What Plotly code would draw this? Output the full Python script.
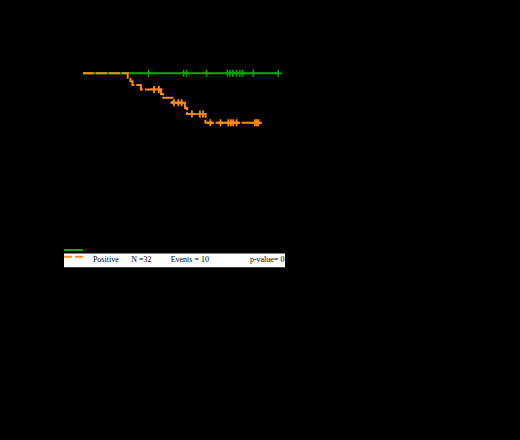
import plotly.graph_objects as go

# ---- data ----
neg_times = [0, 119.7]
neg_surv = [1.0, 1.0]
neg_censor_times = [40.2, 61.7, 63.5, 75.7, 88.4, 90.0, 91.7, 94.1, 96.1, 97.8, 104.3, 119.6]

pos_event_times = [27.4, 29.1, 30.3, 35.5, 47.8, 49.0, 54.8, 62.5, 63.7, 75.0]
pos_surv_after = [0.970, 0.945, 0.918, 0.887, 0.854, 0.828, 0.793, 0.756, 0.713, 0.652]
pos_end_time = 108.0
pos_censor_times = [43.5, 46.5, 55.7, 58.4, 60.4, 66.7, 71.6, 73.5, 78.0, 84.2,
                    89.0, 90.6, 92.0, 94.1, 105.3, 106.4, 107.4]

legend_labels = ["Positive", "N =32", "Events = 10", "p-value= 0.02"]
legend_label_x = [6.1, 29.6, 53.7, 102.2]

GREEN = "#10a810"
ORANGE = "#ff8a10"


def surv_at(t):
    s = 1.0
    for et, sv in zip(pos_event_times, pos_surv_after):
        if et <= t:
            s = sv
    return s


pos_x = [0.0]
pos_y = [1.0]
for et, sv in zip(pos_event_times, pos_surv_after):
    pos_x.append(et)
    pos_y.append(pos_y[-1])
    pos_x.append(et)
    pos_y.append(sv)
pos_x.append(pos_end_time)
pos_y.append(pos_y[-1])

fig = go.Figure()

fig.add_trace(go.Scatter(x=neg_times, y=neg_surv, mode="lines",
                         line=dict(color=GREEN, width=2), hoverinfo="skip"))
fig.add_trace(go.Scatter(x=neg_censor_times, y=[1.0] * len(neg_censor_times), mode="markers",
                         marker=dict(symbol="cross-thin", size=5, line=dict(color=GREEN, width=1.5)),
                         hoverinfo="skip"))
fig.add_trace(go.Scatter(x=pos_x, y=pos_y, mode="lines",
                         line=dict(color=ORANGE, width=2, dash="11px,2px"), hoverinfo="skip"))
fig.add_trace(go.Scatter(x=pos_censor_times, y=[surv_at(t) for t in pos_censor_times], mode="markers",
                         marker=dict(symbol="cross-thin", size=5, line=dict(color=ORANGE, width=1.8)),
                         hoverinfo="skip"))

# legend box (second row white)
fig.add_shape(type="rect", xref="x domain", yref="y", x0=0, x1=1, y0=-0.366, y1=-0.268,
              fillcolor="white", line=dict(width=0), layer="below")

# legend samples
fig.add_trace(go.Scatter(x=[-11.6, 0.0], y=[-0.244, -0.244], mode="lines",
                         line=dict(color=GREEN, width=2), hoverinfo="skip"))
fig.add_trace(go.Scatter(x=[-11.6, 0.0], y=[-0.292, -0.292], mode="lines",
                         line=dict(color=ORANGE, width=2, dash="8px,3px"), hoverinfo="skip"))

fig.add_trace(go.Scatter(x=legend_label_x, y=[-0.317] * len(legend_labels), mode="text",
                         text=legend_labels, textposition="middle right",
                         textfont=dict(family="Liberation Serif", size=8, color="black"),
                         cliponaxis=True, hoverinfo="skip"))

fig.update_layout(
    width=520, height=440, autosize=False,
    margin=dict(l=64, r=235, t=60, b=170),
    paper_bgcolor="black", plot_bgcolor="black",
    showlegend=False,
    xaxis=dict(range=[-11.6, 123.7], visible=False),
    yaxis=dict(range=[-0.385, 1.094], visible=False),
)

fig.write_html("out.html", config={"displayModeBar": False},
               post_script="document.body.style.margin='0';document.body.style.background='black';")
